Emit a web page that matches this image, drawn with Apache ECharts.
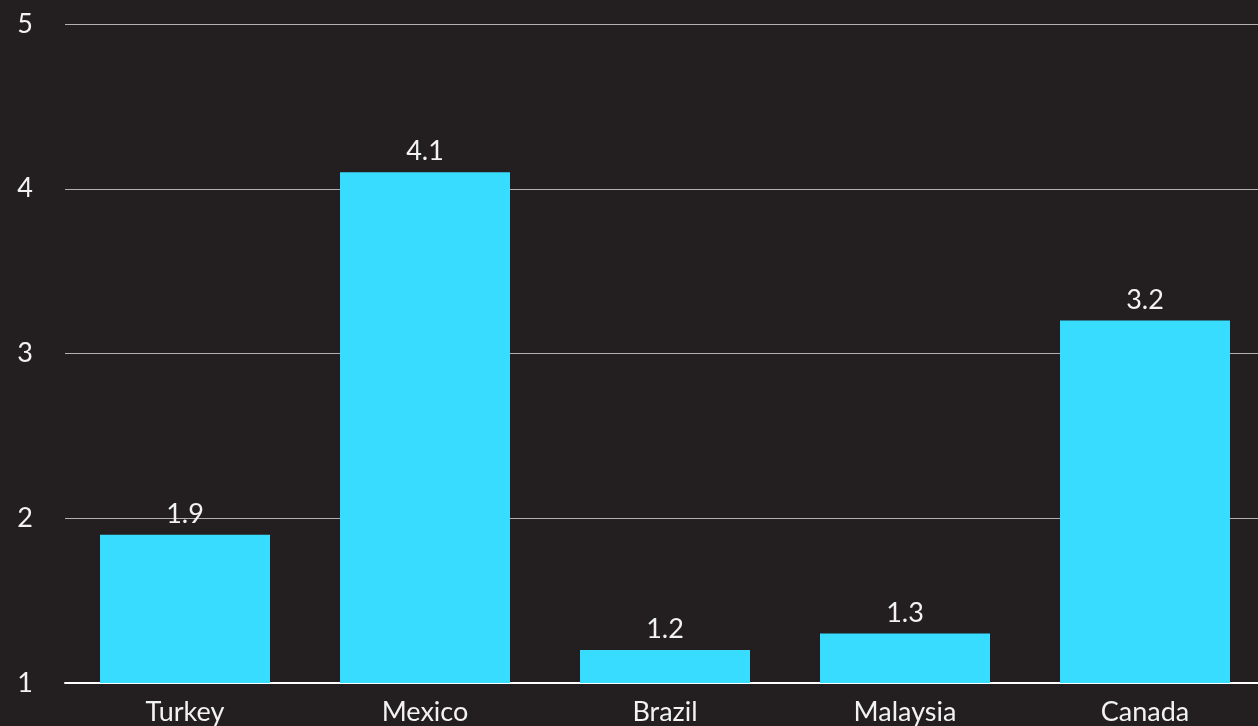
<!DOCTYPE html>
<html><head><meta charset="utf-8">
<script src="https://cdn.jsdelivr.net/npm/echarts@6/dist/echarts.min.js"></script>
<style>html,body{margin:0;padding:0;background:#231f20;overflow:hidden;}#c{width:1265px;height:726px;}</style>
</head><body><div id="c"></div>
<script>
const categories = ['Turkey', 'Mexico', 'Brazil', 'Malaysia', 'Canada'];
const values = [1.9, 4.1, 1.2, 1.3, 3.2];
const yTicks = { min: 1, max: 5, interval: 1 };

const chart = echarts.init(document.getElementById('c'));
chart.setOption({
  backgroundColor: '#231f20',
  animation: false,
  grid: { left: 65, right: 0, top: 24, bottom: 42, containLabel: false },
  xAxis: {
    type: 'category',
    data: categories,
    axisLine: { show: true, lineStyle: { color: '#ffffff', width: 2 } },
    axisTick: { show: false },
    axisLabel: { color: '#f2f2f2', fontFamily: 'Lato', fontSize: 27, margin: 16 }
  },
  yAxis: {
    type: 'value',
    min: yTicks.min, max: yTicks.max, interval: yTicks.interval,
    axisLine: { show: false },
    axisTick: { show: false },
    splitLine: { lineStyle: { color: '#b0b0b0', width: 1 } },
    axisLabel: { color: '#f2f2f2', fontFamily: 'Lato', fontSize: 27, margin: 32 }
  },
  series: [{
    type: 'bar',
    data: values,
    barWidth: 170,
    itemStyle: { color: '#38dcff' },
    label: { show: true, position: 'top', distance: 7, color: '#f2f2f2', fontFamily: 'Lato', fontSize: 27 }
  }]
});
</script></body></html>
